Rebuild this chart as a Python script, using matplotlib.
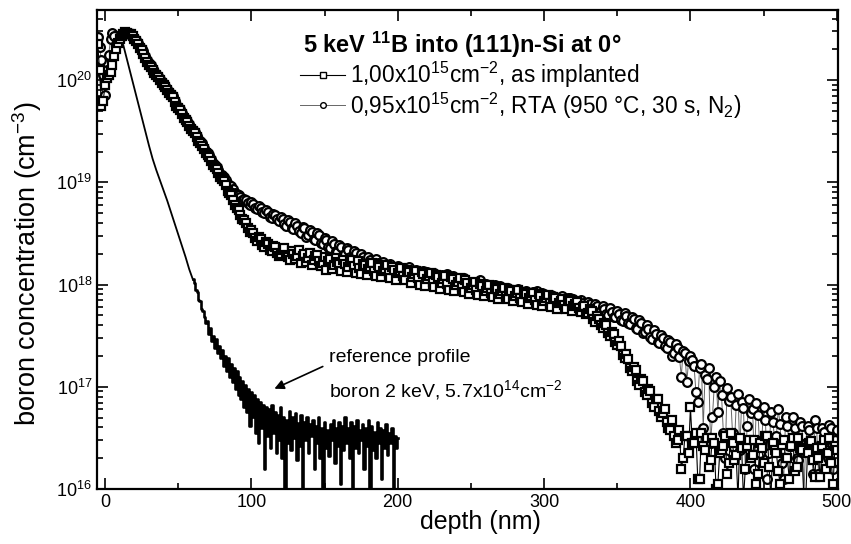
import numpy as np
import matplotlib
matplotlib.use('Agg')
import matplotlib.pyplot as plt
from matplotlib.ticker import LogLocator, LogFormatterMathtext, MultipleLocator

plt.rcParams['font.family'] = 'Liberation Sans'
plt.rcParams['mathtext.fontset'] = 'custom'
plt.rcParams['mathtext.rm'] = 'Liberation Sans'
plt.rcParams['mathtext.it'] = 'Liberation Sans:italic'
plt.rcParams['mathtext.bf'] = 'Liberation Sans:bold'

# depth grid of the two SIMS profiles (nm); values are log10(cm^-3)
depth = np.arange(-5, 500.1, 2.5)

implanted_log = [
    20.35, 19.75, 19.95, 20.05, 20.15, 20.30, 20.40, 20.45, 20.46, 20.45,
    20.40, 20.35, 20.29, 20.22, 20.15, 20.10, 20.05, 20.00, 19.95, 19.90,
    19.85, 19.79, 19.73, 19.67, 19.61, 19.55, 19.50, 19.44, 19.38, 19.33,
    19.27, 19.21, 19.15, 19.09, 19.03, 18.97, 18.90, 18.83, 18.75, 18.68,
    18.63, 18.55, 18.53, 18.46, 18.47, 18.39, 18.42, 18.34, 18.38, 18.31,
    18.30, 18.36, 18.27, 18.33, 18.25, 18.34, 18.28, 18.22, 18.31, 18.24,
    18.29, 18.18, 18.27, 18.23, 18.15, 18.26, 18.20, 18.24, 18.12, 18.22,
    18.18, 18.23, 18.10, 18.19, 18.15, 18.21, 18.08, 18.17, 18.13, 18.19,
    18.06, 18.14, 18.11, 18.16, 18.04, 18.12, 18.07, 18.13, 18.00, 18.10,
    18.05, 18.11, 17.98, 18.07, 18.02, 18.08, 17.95, 18.05, 18.00, 18.06,
    17.93, 18.02, 17.97, 18.03, 17.90, 17.99, 17.94, 18.00, 17.88, 17.96,
    17.91, 17.97, 17.86, 17.94, 17.89, 17.95, 17.83, 17.91, 17.87, 17.92,
    17.80, 17.89, 17.84, 17.90, 17.78, 17.87, 17.82, 17.86, 17.76, 17.84,
    17.79, 17.83, 17.73, 17.79, 17.72, 17.74, 17.63, 17.66, 17.58, 17.60,
    17.50, 17.52, 17.41, 17.40, 17.28, 17.27, 17.15, 17.16, 17.02, 17.06,
    16.92, 16.96, 16.80, 16.88, 16.70, 16.78, 16.60, 16.68, 16.45, 16.58,
    16.30, 16.52, 16.80, 16.45, 16.10, 16.55, 16.38, 16.22, 16.50, 16.00,
    16.35, 16.42, 16.15, 16.55, 16.28, 15.90, 16.40, 16.20, 16.48, 16.33,
    16.05, 16.45, 16.25, 16.52, 15.90, 16.38, 16.18, 16.43, 16.30, 16.10,
    16.50, 16.22, 16.40, 15.90, 16.35, 16.47, 16.12, 16.30, 16.42, 16.20,
    16.50, 16.05, 16.38,
]

# points lying between the grid points above
implanted_mid_depth = np.arange(-3.75, 380, 2.5)
implanted_mid_log = [
    20.10, 19.80, 20.02, 20.08, 20.24, 20.36, 20.43, 20.47, 20.45, 20.43,
    20.38, 20.31, 20.26, 20.18, 20.13, 20.07, 20.03, 19.97, 19.93, 19.87,
    19.83, 19.75, 19.71, 19.63, 19.59, 19.52, 19.48, 19.40, 19.36, 19.29,
    19.25, 19.17, 19.13, 19.05, 19.01, 18.92, 18.88, 18.78, 18.73, 18.64,
    18.60, 18.51, 18.50, 18.43, 18.45, 18.37, 18.40, 18.33, 18.37, 18.28,
    18.34, 18.29, 18.24, 18.30, 18.28, 18.21, 18.30, 18.26, 18.19, 18.28,
    18.23, 18.21, 18.14, 18.25, 18.19, 18.22, 18.13, 18.20, 18.17, 18.24,
    18.11, 18.16, 18.20, 18.09, 18.17, 18.13, 18.19, 18.07, 18.15, 18.11,
    18.17, 18.04, 18.13, 18.08, 18.14, 18.02, 18.10, 18.06, 18.12, 17.99,
    18.08, 18.03, 18.09, 17.96, 18.05, 18.01, 18.07, 17.94, 18.03, 17.98,
    18.04, 17.91, 18.00, 17.95, 18.01, 17.89, 17.97, 17.92, 17.98, 17.86,
    17.94, 17.89, 17.95, 17.84, 17.92, 17.87, 17.93, 17.81, 17.89, 17.85,
    17.91, 17.79, 17.87, 17.82, 17.88, 17.76, 17.84, 17.80, 17.85, 17.74,
    17.81, 17.77, 17.78, 17.71, 17.76, 17.66, 17.69, 17.60, 17.62, 17.53,
    17.54, 17.44, 17.45, 17.31, 17.32, 17.18, 17.19, 17.06, 17.08, 16.95,
    16.98, 16.84, 16.88, 16.76,
]
implanted_tail_depth = np.arange(381.25, 500, 2.5)
implanted_tail_log = [
    16.74, 16.66, 16.58, 16.52, 16.48, 16.20, 16.52, 16.35, 16.45, 16.55,
    16.10, 16.42, 16.50, 16.28, 16.45, 16.05, 16.38, 16.52, 16.25, 16.45,
    16.33, 16.50, 15.90, 16.42, 16.30, 16.48, 16.15, 16.40, 16.52, 16.22,
    16.45, 16.35, 16.05, 16.48, 16.30, 16.42, 16.18, 16.50, 16.38, 15.90,
    16.45, 16.28, 16.40, 16.12, 16.48, 16.35, 16.25, 16.42,
]

rta_log = [
    20.42, 20.20, 19.85, 20.25, 20.46, 20.35, 20.41, 20.45, 20.46, 20.44,
    20.41, 20.36, 20.30, 20.24, 20.17, 20.11, 20.06, 20.01, 19.96, 19.91,
    19.86, 19.80, 19.74, 19.68, 19.62, 19.57, 19.51, 19.45, 19.40, 19.34,
    19.29, 19.23, 19.17, 19.12, 19.07, 19.02, 18.97, 18.93, 18.89, 18.86,
    18.84, 18.80, 18.81, 18.75, 18.77, 18.71, 18.73, 18.66, 18.69, 18.64,
    18.66, 18.59, 18.63, 18.55, 18.60, 18.52, 18.56, 18.47, 18.53, 18.45,
    18.50, 18.41, 18.46, 18.37, 18.43, 18.33, 18.39, 18.29, 18.36, 18.27,
    18.33, 18.24, 18.30, 18.19, 18.27, 18.16, 18.25, 18.13, 18.22, 18.10,
    18.20, 18.09, 18.18, 18.12, 18.06, 18.17, 18.10, 18.14, 18.03, 18.13,
    18.12, 18.04, 18.11, 18.01, 18.09, 18.07, 17.99, 18.08, 18.04, 17.97,
    18.06, 17.98, 18.03, 17.93, 18.02, 17.96, 18.01, 17.90, 17.99, 17.94,
    17.99, 17.90, 17.97, 17.92, 17.88, 17.96, 17.89, 17.94, 17.86, 17.93,
    17.94, 17.85, 17.91, 17.83, 17.90, 17.88, 17.81, 17.89, 17.84, 17.87,
    17.86, 17.79, 17.85, 17.78, 17.83, 17.76, 17.81, 17.73, 17.79, 17.71,
    17.77, 17.68, 17.74, 17.65, 17.72, 17.62, 17.68, 17.58, 17.65, 17.53,
    17.60, 17.49, 17.56, 17.44, 17.51, 17.40, 17.46, 17.30, 17.42, 17.29,
    17.35, 17.05, 17.30, 17.20, 16.85, 17.22, 17.12, 17.18, 16.70, 17.10,
    17.06, 16.55, 16.99, 16.90, 16.40, 16.93, 16.85, 16.20, 16.88, 16.78,
    16.84, 16.35, 16.80, 16.10, 16.75, 16.50, 16.78, 16.25, 16.70, 16.42,
    16.70, 16.30, 16.66, 15.90, 16.62, 16.45, 16.68, 16.15, 16.60, 16.38,
    16.63, 16.20, 16.58,
]
rta_mid_depth = np.arange(-3.75, 400, 2.5)
rta_mid_log = [
    20.32, 20.05, 20.10, 20.40, 20.43, 20.37, 20.44, 20.46, 20.46, 20.42,
    20.39, 20.32, 20.28, 20.20, 20.15, 20.08, 20.04, 19.98, 19.94, 19.88,
    19.84, 19.76, 19.72, 19.64, 19.60, 19.53, 19.49, 19.41, 19.38, 19.30,
    19.27, 19.19, 19.15, 19.08, 19.05, 18.98, 18.96, 18.90, 18.88, 18.83,
    18.83, 18.78, 18.79, 18.74, 18.75, 18.70, 18.71, 18.65, 18.68, 18.62,
    18.64, 18.57, 18.61, 18.54, 18.57, 18.50, 18.55, 18.48, 18.51, 18.44,
    18.48, 18.40, 18.44, 18.36, 18.40, 18.32, 18.37, 18.30, 18.34, 18.26,
    18.31, 18.22, 18.27, 18.20, 18.24, 18.18, 18.21, 18.15, 18.19, 18.13,
    18.17, 18.11, 18.16, 18.09, 18.14, 18.07, 18.13, 18.08, 18.11, 18.05,
    18.10, 18.06, 18.03, 18.08, 18.04, 18.10, 18.02, 18.05, 18.00, 18.04,
    18.01, 17.96, 18.00, 17.97, 18.04, 17.93, 17.98, 17.95, 18.00, 17.92,
    17.96, 17.93, 17.89, 17.95, 17.91, 17.93, 17.87, 17.92, 17.89, 17.91,
    17.86, 17.92, 17.87, 17.85, 17.89, 17.84, 17.86, 17.82, 17.87, 17.81,
    17.84, 17.80, 17.82, 17.77, 17.81, 17.75, 17.79, 17.74, 17.76, 17.70,
    17.73, 17.68, 17.71, 17.64, 17.69, 17.61, 17.66, 17.57, 17.62, 17.54,
    17.57, 17.47, 17.52, 17.43, 17.48, 17.38, 17.44, 17.33, 17.38, 17.10,
    17.33, 17.25,
]
rta_tail_depth = np.arange(401.25, 500, 2.5)
rta_tail_log = [
    17.26, 16.95, 17.18, 16.60, 17.08, 16.45, 17.00, 16.75, 16.92, 16.30,
    16.86, 16.55, 16.82, 16.38, 16.79, 16.62, 16.74, 16.20, 16.72, 16.48,
    16.68, 16.35, 16.66, 16.52, 16.64, 16.10, 16.62, 16.42, 16.60, 16.28,
    16.62, 16.45, 16.58, 16.15, 16.60, 16.40, 16.56, 16.30, 16.60, 16.48,
]

# reference profile (boron 2 keV): smooth part, then 1 nm steps
ref_depth_head = [8, 10, 12.5, 15, 17.5, 20, 22.5, 25, 27.5, 30, 32.5,
                  35, 37.5, 40, 42.5, 45, 47.5, 50, 52.5, 55, 57.5]
ref_log_head = [20.30, 20.38, 20.34, 20.20, 20.06, 19.92, 19.78, 19.64,
                19.50, 19.36, 19.23, 19.12, 19.02, 18.92, 18.82, 18.71,
                18.60, 18.49, 18.38, 18.27, 18.15]
ref_depth_tail = np.arange(60, 201, 1)
ref_log_tail = [
    18.05, 18.02, 17.95, 17.93, 17.85, 17.84, 17.76, 17.74, 17.68, 17.62,
    17.64, 17.52, 17.58, 17.45, 17.50, 17.38, 17.47, 17.33, 17.40, 17.28,
    17.36, 17.20, 17.30, 17.15, 17.28, 17.10, 17.22, 17.05, 17.18, 16.98,
    17.15, 16.92, 17.10, 16.88, 17.06, 16.80, 17.02, 16.75, 16.98, 16.62,
    16.95, 16.70, 16.92, 16.55, 16.88, 16.45, 16.85, 16.60, 16.82, 16.20,
    16.80, 16.52, 16.78, 16.40, 16.82, 16.55, 16.75, 16.35, 16.72, 16.48,
    16.80, 16.30, 16.70, 15.90, 16.68, 16.45, 16.76, 16.38, 16.70, 16.50,
    16.74, 16.28, 16.65, 16.42, 16.72, 15.90, 16.66, 16.48, 16.70, 16.35,
    16.64, 16.52, 16.68, 16.20, 16.62, 16.45, 16.70, 16.30, 16.60, 15.90,
    16.66, 16.40, 16.58, 16.32, 16.64, 16.48, 16.68, 16.25, 16.60, 16.42,
    16.66, 16.05, 16.62, 16.38, 16.70, 16.45, 16.60, 16.30, 16.66, 15.90,
    16.62, 16.40, 16.68, 16.35, 16.58, 16.48, 16.64, 16.20, 16.60, 16.42,
    16.68, 15.90, 16.62, 16.38, 16.56, 16.30, 16.66, 16.45, 16.60, 16.10,
    16.58, 16.40, 16.64, 16.33, 16.55, 16.45, 16.60, 15.90, 16.52, 16.40,
    16.50,
]

labels = [r'1,00x10$^{15}$cm$^{-2}$, as implanted',
          r'0,95x10$^{15}$cm$^{-2}$, RTA (950 °C, 30 s, N$_2$)']


def merge(*parts):
    d = np.concatenate([p[0] for p in parts])
    v = np.concatenate([p[1] for p in parts])
    order = np.argsort(d)
    return d[order], 10 ** v[order]


fig = plt.figure(figsize=(8.51, 5.44), dpi=100)
ax = fig.add_axes([0.114, 0.101, 0.871, 0.881])

# reference profile: straight head, step-like noisy tail
ax.plot(list(ref_depth_head) + [ref_depth_tail[0]],
        10 ** np.array(ref_log_head + [ref_log_tail[0]]),
        '-', color='black', lw=1.3)
ax.plot(ref_depth_tail, 10 ** np.array(ref_log_tail), '-', color='black',
        lw=1.9, drawstyle='steps-mid')

d_rta, c_rta = merge((depth, rta_log), (rta_mid_depth, rta_mid_log),
                     (rta_tail_depth, rta_tail_log))
d_imp, c_imp = merge((depth, implanted_log),
                     (implanted_mid_depth, implanted_mid_log),
                     (implanted_tail_depth, implanted_tail_log))
ax.plot(d_rta, c_rta, '-o', color='#666666', lw=0.7,
        ms=6.3, mfc='white', mec='black', mew=1.6, label=labels[1])
ax.plot(d_imp, c_imp, '-s', color='black', lw=0.8,
        ms=5.9, mfc='white', mec='black', mew=1.6, label=labels[0])

ax.set_yscale('log')
ax.set_xlim(-5.5, 501)
ax.set_ylim(1e16, 4.87e20)

ax.xaxis.set_major_locator(MultipleLocator(100))
ax.xaxis.set_minor_locator(MultipleLocator(50))
ax.yaxis.set_major_locator(LogLocator(base=10, numticks=10))
ax.yaxis.set_minor_locator(LogLocator(base=10, subs=np.arange(2, 10), numticks=20))
ax.yaxis.set_major_formatter(LogFormatterMathtext())
ax.tick_params(which='both', direction='in', top=True, right=True, width=1.2,
               labelsize=13)
ax.tick_params(which='major', length=8)
ax.tick_params(which='minor', length=4)
for s in ax.spines.values():
    s.set_linewidth(1.6)

ax.set_xlabel('depth (nm)', fontsize=18)
ax.xaxis.set_label_coords(0.517, -0.043)
ax.set_ylabel(r'boron concentration (cm$^{-3}$)', fontsize=19.5)
ax.yaxis.set_label_coords(-0.072, 0.47)

ax.text(0.493, 0.927, r'5 keV $^{\mathbf{11}}$B into (111)n-Si at 0°',
        transform=ax.transAxes, ha='center', va='center', fontsize=17,
        fontweight='bold')

h, l = ax.get_legend_handles_labels()
leg = ax.legend(h[::-1], l[::-1], loc='upper left', bbox_to_anchor=(0.274, 0.895),
                frameon=False, fontsize=16.3, handlelength=2.0, handletextpad=0.2,
                labelspacing=0.0, borderpad=0, borderaxespad=0, markerscale=0.65)
for line in leg.get_lines():
    line.set_markeredgewidth(1.0)

ax.annotate('', xy=(114, 10 ** 16.97), xytext=(150.5, 10 ** 17.21),
            arrowprops=dict(arrowstyle='-|>', color='black', lw=1.2,
                            mutation_scale=14))
ax.text(153, 10 ** 17.29, 'reference profile', va='center', fontsize=14)
ax.text(153, 10 ** 16.97, r'boron 2 keV, 5.7x10$^{14}$cm$^{-2}$',
        va='center', fontsize=14)

fig.savefig('out.png', dpi=100)
